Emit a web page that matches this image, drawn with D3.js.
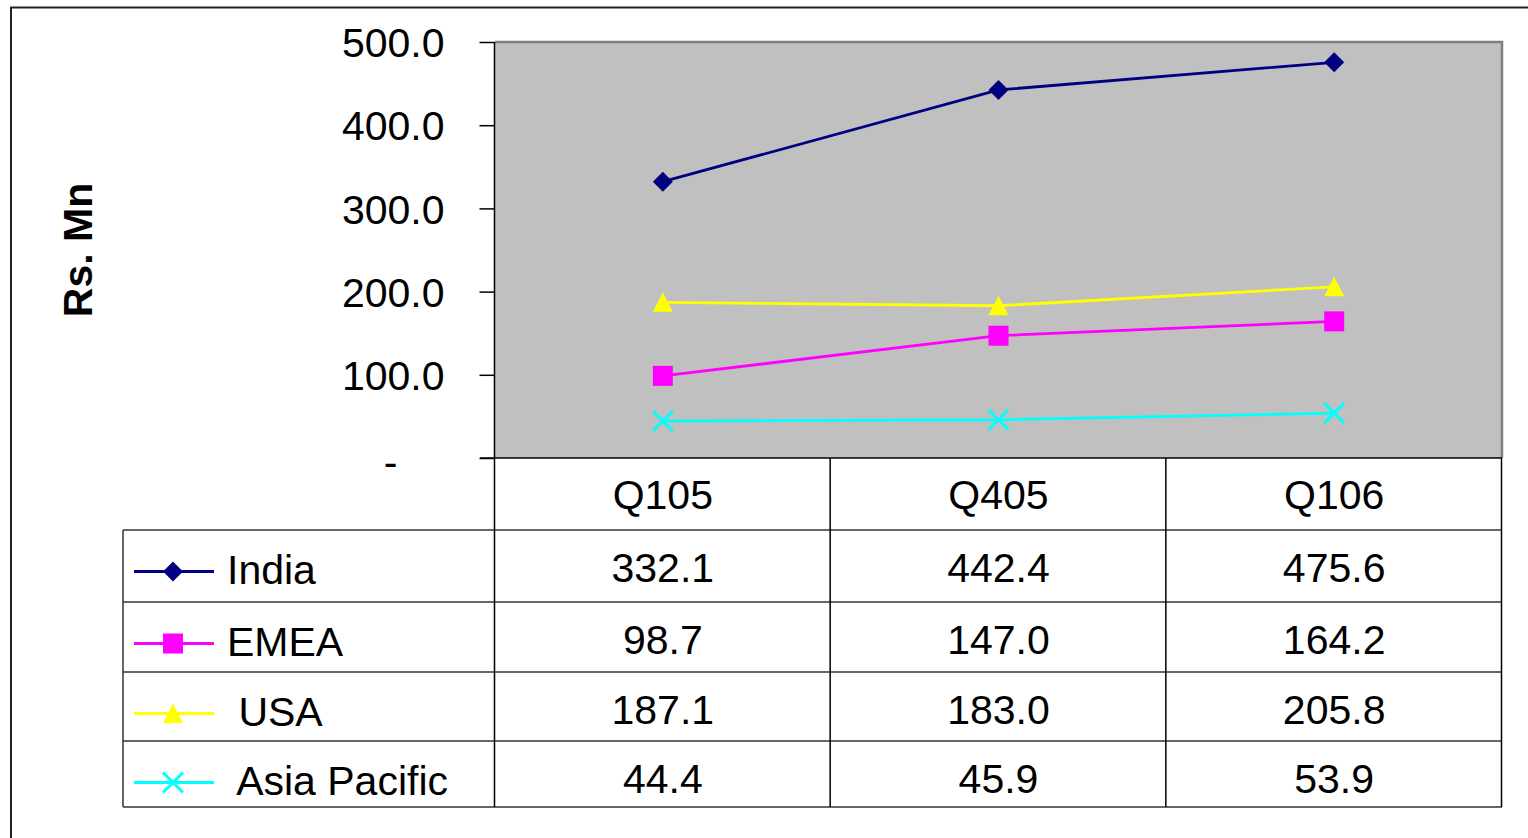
<!DOCTYPE html>
<html>
<head>
<meta charset="utf-8">
<script src="https://cdn.jsdelivr.net/npm/d3@7"></script>
<style>
  html, body { margin: 0; padding: 0; background: #fff; }
  svg { display: block; font-family: "Liberation Sans", Arial, sans-serif; }
  text { white-space: pre; }
</style>
</head>
<body>
<svg id="chart" width="1528" height="838"></svg>
<script>
// Quarterly revenue by region (Rs. Mn)
const quarters = ["Q105", "Q405", "Q106"];
const regions = ["India", "EMEA", " USA", " Asia Pacific"];
const india = [332.1, 442.4, 475.6];
const emea = [98.7, 147.0, 164.2];
const usa = [187.1, 183.0, 205.8];
const asiaPacific = [44.4, 45.9, 53.9];
const yTicks = [0, 100, 200, 300, 400, 500];
const seriesColors = ["#000080", "#FF00FF", "#FFFF00", "#00FFFF"];
const seriesShapes = ["diamond", "square", "triangle", "cross"];

const series = regions.map((name, i) => ({
  name,
  values: [india, emea, usa, asiaPacific][i],
  color: seriesColors[i],
  shape: seriesShapes[i]
}));

const svg = d3.select("#chart");
const FONT = 41;

// layout
const plot = { left: 495, right: 1502, top: 42, bottom: 458 };
const tableLeft = 123;
const rowLines = [458, 530, 602, 672, 741, 807];

const x = d3.scaleBand().domain(quarters).range([plot.left, plot.right]);
const y = d3.scaleLinear().domain([0, 500]).range([plot.bottom, plot.top]);

// custom marker shapes (size = full width in px)
const shapes = {
  diamond: { draw(c, s) { const r = s / 2; c.moveTo(0, -r); c.lineTo(r, 0); c.lineTo(0, r); c.lineTo(-r, 0); c.closePath(); } },
  square: { draw(c, s) { const r = s / 2; c.rect(-r, -r, s, s); } },
  triangle: { draw(c, s) { const r = s / 2; c.moveTo(0, -r); c.lineTo(r, r * 0.95); c.lineTo(-r, r * 0.95); c.closePath(); } },
  cross: { draw(c, s) { const r = s / 2; c.moveTo(-r, -r); c.lineTo(r, r); c.moveTo(r, -r); c.lineTo(-r, r); } }
};
function drawMarker(sel, shape, color) {
  sel.attr("d", d3.symbol().type(shapes[shape]).size(20)());
  if (shape === "cross") sel.attr("fill", "none").attr("stroke", color).attr("stroke-width", 3);
  else sel.attr("fill", color).attr("stroke", "none");
}

// outer frame
svg.append("rect").attr("x", 11).attr("y", 7.5).attr("width", 1530).attr("height", 840)
  .attr("fill", "none").attr("stroke", "#222").attr("stroke-width", 2);

// plot background
svg.append("rect").attr("x", plot.left).attr("y", plot.top)
  .attr("width", plot.right - plot.left).attr("height", plot.bottom - plot.top)
  .attr("fill", "#C0C0C0");
svg.append("path")
  .attr("d", `M${plot.left},${plot.top}H${plot.right}V${plot.bottom}`)
  .attr("fill", "none").attr("stroke", "#808080").attr("stroke-width", 2.5);

// y axis
const yAxis = d3.axisLeft(y).tickValues(yTicks).tickSize(15).tickPadding(35)
  .tickFormat(d => d === 0 ? "-" : d.toFixed(1));
const gy = svg.append("g").attr("transform", `translate(${plot.left - 0.5},0)`).call(yAxis);
gy.select(".domain").remove();
gy.selectAll(".tick line").attr("stroke", "#000").attr("stroke-width", 1.5);
gy.selectAll(".tick text").attr("font-size", FONT).attr("fill", "#000")
  .attr("font-family", "Liberation Sans, Arial, sans-serif")
  .attr("dy", "0.36em");
gy.selectAll(".tick text").filter(d => d === 0).attr("x", -97).attr("dy", "0.42em");

// y axis title
svg.append("text")
  .attr("transform", "translate(92,250) rotate(-90)")
  .attr("text-anchor", "middle")
  .attr("font-size", FONT).attr("font-weight", "bold")
  .text("Rs. Mn");

// series lines and markers
const line = d3.line().x((d, i) => x(quarters[i]) + x.bandwidth() / 2).y(d => y(d));
series.forEach(s => {
  svg.append("path").attr("d", line(s.values))
    .attr("fill", "none").attr("stroke", s.color).attr("stroke-width", 2.8);
  s.values.forEach((v, i) => {
    svg.append("path")
      .attr("transform", `translate(${x(quarters[i]) + x.bandwidth() / 2},${y(v)})`)
      .call(drawMarker, s.shape, s.color);
  });
});

// data table grid
const grid = svg.append("g").attr("stroke", "#333").attr("stroke-width", 1.5).attr("fill", "none");
// x axis line (top of the table header)
grid.append("line").attr("x1", plot.left - 15).attr("x2", plot.right)
  .attr("y1", plot.bottom).attr("y2", plot.bottom).attr("stroke", "#000");
rowLines.slice(1).forEach(yy => {
  grid.append("line").attr("x1", tableLeft).attr("x2", plot.right).attr("y1", yy).attr("y2", yy);
});
// vertical column lines
[plot.left].concat(quarters.map(q => x(q) + x.bandwidth())).forEach((xx, i) => {
  grid.append("line").attr("x1", xx - 0.5).attr("x2", xx - 0.5)
    .attr("y1", i === 0 ? plot.top : plot.bottom).attr("y2", rowLines[rowLines.length - 1])
    .attr("stroke", "#000");
});
grid.append("line").attr("x1", tableLeft).attr("x2", tableLeft)
  .attr("y1", rowLines[1]).attr("y2", rowLines[rowLines.length - 1]);

// header labels
svg.append("g").selectAll("text").data(quarters).join("text")
  .attr("x", d => x(d) + x.bandwidth() / 2)
  .attr("y", (rowLines[0] + rowLines[1]) / 2)
  .attr("dy", "0.36em")
  .attr("text-anchor", "middle").attr("font-size", FONT)
  .text(d => d);

// table rows: legend key + values
series.forEach((s, r) => {
  const top = rowLines[r + 1];
  const keyY = top + 41.5;
  const g = svg.append("g");
  g.append("line").attr("x1", 134).attr("x2", 214).attr("y1", keyY).attr("y2", keyY)
    .attr("stroke", s.color).attr("stroke-width", 2.8);
  g.append("path").attr("transform", `translate(173,${keyY})`).call(drawMarker, s.shape, s.color);
  g.append("text").attr("x", 227).attr("y", top + 54)
    .attr("font-size", FONT).text(s.name);
  g.selectAll("text.val").data(s.values).join("text").attr("class", "val")
    .attr("x", (d, i) => x(quarters[i]) + x.bandwidth() / 2)
    .attr("y", top + 52)
    .attr("text-anchor", "middle").attr("font-size", FONT)
    .text(d => d.toFixed(1));
});
</script>
</body>
</html>
